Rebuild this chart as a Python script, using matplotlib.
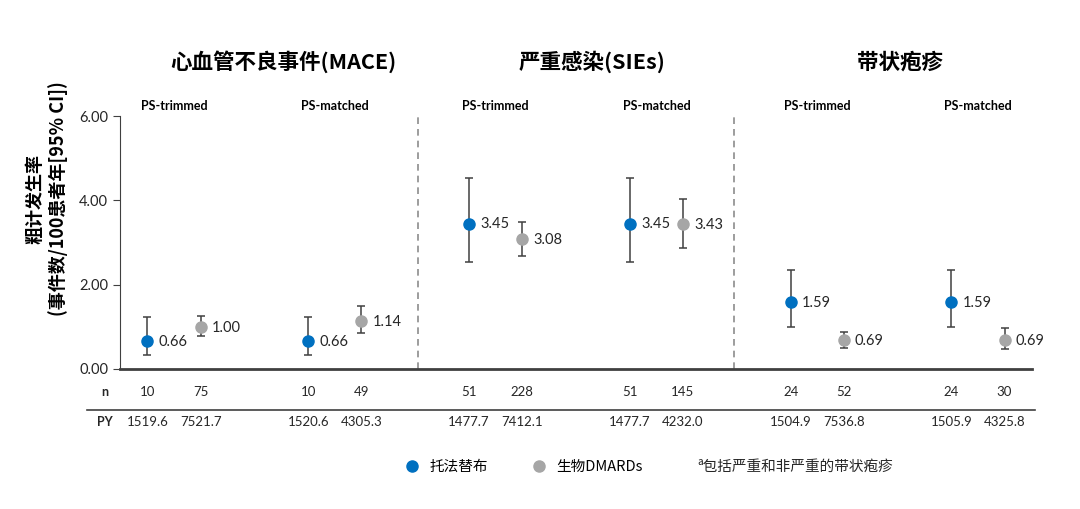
import numpy as np
import matplotlib.pyplot as plt
from matplotlib.lines import Line2D
from matplotlib.transforms import blended_transform_factory

plt.rcParams['font.family'] = ['Lato', 'Noto Sans CJK SC', 'DejaVu Sans']

# data
outcomes = ['心血管不良事件(MACE)', '严重感染(SIEs)', '带状疱疹']
cohorts = ['PS-trimmed', 'PS-matched']
groups = ['托法替布', '生物DMARDs']

tofa_rate = [0.66, 0.66, 3.45, 3.45, 1.59, 1.59]
tofa_lo = [0.33, 0.33, 2.54, 2.54, 1.00, 1.00]
tofa_hi = [1.23, 1.23, 4.53, 4.53, 2.35, 2.35]
bio_rate = [1.00, 1.14, 3.08, 3.43, 0.69, 0.69]
bio_lo = [0.78, 0.85, 2.68, 2.87, 0.50, 0.47]
bio_hi = [1.26, 1.49, 3.49, 4.02, 0.88, 0.98]

tofa_n = [10, 10, 51, 51, 24, 24]
bio_n = [75, 49, 228, 145, 52, 30]
tofa_py = [1519.6, 1520.6, 1477.7, 1477.7, 1504.9, 1505.9]
bio_py = [7521.7, 4305.3, 7412.1, 4232.0, 7536.8, 4325.8]

yticks = [0, 2, 4, 6]

blue = '#0070C0'
grey = '#A6A6A6'
dark = '#404040'

fig = plt.figure(figsize=(10.8, 5.09), dpi=100)
ax = fig.add_axes([120 / 1080, 1 - 369 / 509, 912 / 1080, 253 / 509])

x = np.arange(len(tofa_rate))
off = 0.165

for xs, r, lo, hi, c in [(x - off, tofa_rate, tofa_lo, tofa_hi, blue),
                         (x + off, bio_rate, bio_lo, bio_hi, grey)]:
    r = np.array(r)
    yerr = [r - np.array(lo), np.array(hi) - r]
    ax.errorbar(xs, r, yerr=yerr, fmt='o', color=c, ms=8, ecolor=dark,
                elinewidth=1.1, capsize=3, capthick=1.1)
    for xi, v in zip(xs, r):
        ax.annotate(f'{v:.2f}', (xi, v), xytext=(8, -0.5), textcoords='offset points',
                    va='center', ha='left', fontsize=10.5, color='#262626')

# separators between outcome panels
for sep in [1.52, 3.48]:
    ax.axvline(sep, color='#8C8C8C', lw=1.2, ls=(0, (4, 3)))

ax.set_xlim(-0.336, 5.336)
ax.set_ylim(0, 6)
ax.set_yticks(yticks)
ax.set_yticklabels([f'{v:.2f}' for v in yticks], fontsize=10.5, color='#262626')
ax.set_xticks([])
ax.tick_params(axis='y', length=5, color=dark)
for s in ['top', 'right']:
    ax.spines[s].set_visible(False)
ax.spines['left'].set_color(dark)
ax.spines['bottom'].set_color(dark)
ax.spines['bottom'].set_linewidth(2)

trans = blended_transform_factory(ax.transData, fig.transFigure)

# panel titles and cohort labels
bounds = [-0.336, 1.5, 3.5, 5.336]
for i, name in enumerate(outcomes):
    cx = (bounds[i] + bounds[i + 1]) / 2 + 0.1
    ax.text(cx, 1 - 62 / 509, name, transform=trans, ha='center', va='center',
            fontsize=15.5, fontweight='bold', family=['Noto Sans CJK SC', 'DejaVu Sans'],
            color='black')
for i in range(len(x)):
    ax.text(x[i], 1 - 106 / 509, cohorts[i % 2], transform=trans, ha='center',
            va='center', fontsize=9, fontweight='bold', color='black')

# table rows
y_n = 1 - 392 / 509
y_py = 1 - 422 / 509
fig.text(105 / 1080, y_n, 'n', ha='center', va='center', fontsize=9,
         fontweight='bold', color='#262626')
fig.text(105 / 1080, y_py, 'PY', ha='center', va='center', fontsize=9,
         fontweight='bold', color='#262626')
for i in range(len(x)):
    ax.text(x[i] - off, y_n, str(tofa_n[i]), transform=trans, ha='center', va='center',
            fontsize=9.5, color='#262626')
    ax.text(x[i] + off, y_n, str(bio_n[i]), transform=trans, ha='center', va='center',
            fontsize=9.5, color='#262626')
    ax.text(x[i] - off, y_py, f'{tofa_py[i]:.1f}', transform=trans, ha='center',
            va='center', fontsize=9.5, color='#262626')
    ax.text(x[i] + off, y_py, f'{bio_py[i]:.1f}', transform=trans, ha='center',
            va='center', fontsize=9.5, color='#262626')
fig.add_artist(Line2D([87 / 1080, 1035 / 1080], [1 - 410 / 509] * 2,
                      transform=fig.transFigure, color=dark, lw=1.2))

# legend
handles = [Line2D([], [], marker='o', ls='', color=blue, ms=8),
           Line2D([], [], marker='o', ls='', color=grey, ms=8)]
fig.legend(handles, groups, loc='center left', bbox_to_anchor=(393 / 1080, 1 - 467 / 509),
           ncol=2, frameon=False, handlelength=0.8, handletextpad=0.8,
           columnspacing=3.1, prop={'family': ['Noto Sans CJK SC', 'DejaVu Sans'], 'size': 10.5})
fig.text(697 / 1080, 1 - 467 / 509, 'ª包括严重和非严重的带状疱疹', ha='left', va='center',
         fontsize=10.5, family=['Noto Sans CJK SC', 'DejaVu Sans'], color='#262626')

# y label
fig.text(47 / 1080, 1 - 199 / 509, '粗计发生率\n(事件数/100患者年[95% CI])', rotation=90,
         ha='center', va='center', fontsize=13, fontweight='bold', linespacing=1.25,
         family=['Noto Sans CJK SC', 'DejaVu Sans'])

fig.savefig('out.png', dpi=100)
